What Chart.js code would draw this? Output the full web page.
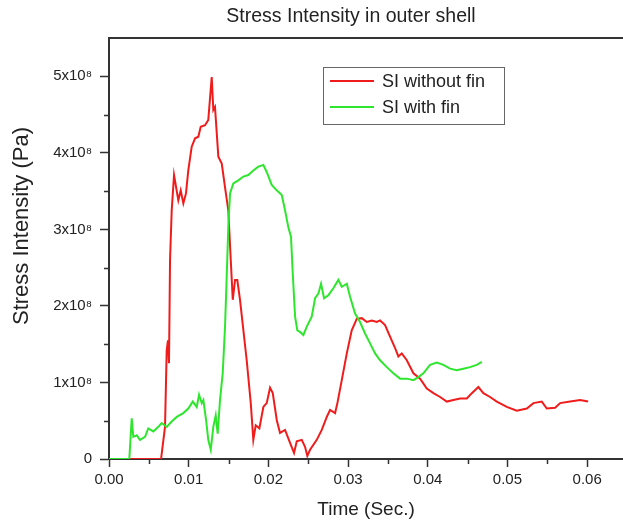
<!DOCTYPE html>
<html>
<head>
<meta charset="utf-8">
<script src="https://cdn.jsdelivr.net/npm/chart.js@4.4.1/dist/chart.umd.min.js"></script>
<style>
  html, body { margin: 0; padding: 0; background: #fff; }
</style>
</head>
<body>
<canvas id="chart" width="623" height="523"></canvas>
<script>
// Values. Stress is in units of 1e8 Pa, time in seconds.
const chartTitle = 'Stress Intensity in outer shell';
const xTitle = 'Time (Sec.)';
const yTitle = 'Stress Intensity (Pa)';
const seriesNames = ['SI without fin', 'SI with fin'];

const noFinTime = [
  0, 0.00653, 0.00703, 0.00724, 0.0074, 0.00753, 0.00766, 0.00787, 0.00816, 0.0087,
  0.009, 0.00933, 0.00966, 0.00995, 0.01038, 0.0108, 0.01121, 0.01151, 0.01205, 0.01246,
  0.01289, 0.01309, 0.0133, 0.01372, 0.01415, 0.01456, 0.01497, 0.01528, 0.01553, 0.01582,
  0.0161, 0.01644, 0.01728, 0.01779, 0.01811, 0.01841, 0.01887, 0.01937, 0.01979, 0.02021,
  0.02055, 0.02105, 0.02146, 0.02209, 0.02272, 0.02322, 0.02356, 0.02419, 0.0246, 0.02489,
  0.02523, 0.02607, 0.0267, 0.02733, 0.02774, 0.02837, 0.02866, 0.02921, 0.02984, 0.03046,
  0.03109, 0.03172, 0.03235, 0.03297, 0.0336, 0.03402, 0.03464, 0.03527, 0.0359, 0.03631,
  0.03674, 0.03737, 0.0382, 0.03904, 0.03988, 0.04071, 0.04155, 0.04239, 0.04322, 0.04406,
  0.0449, 0.04553, 0.04635, 0.04698, 0.04782, 0.04866, 0.04992, 0.05117, 0.05243, 0.05326,
  0.05431, 0.05494, 0.05598, 0.05661, 0.05787, 0.05912, 0.06012
];
const noFinStress = [
  0, 0, 0.42, 1.42, 1.55, 1.25, 2.6, 3.25, 3.71, 3.38,
  3.51, 3.34, 3.47, 3.77, 4.08, 4.19, 4.21, 4.34, 4.36, 4.43,
  4.99, 4.56, 4.6, 3.95, 3.86, 3.55, 3.25, 2.6, 2.08, 2.34,
  2.34, 2.08, 1.29, 0.73, 0.25, 0.44, 0.40, 0.68, 0.73, 0.93,
  0.86, 0.51, 0.34, 0.38, 0.21, 0.08, 0.23, 0.25, 0.16, 0.04,
  0.12, 0.25, 0.38, 0.55, 0.64, 0.6, 0.73, 1.03, 1.38, 1.68,
  1.83, 1.84, 1.79, 1.81, 1.79, 1.81, 1.75, 1.60, 1.45, 1.34,
  1.38, 1.29, 1.12, 1.05, 0.92, 0.86, 0.81, 0.75, 0.77, 0.79,
  0.79, 0.86, 0.94, 0.86, 0.81, 0.75, 0.68, 0.63, 0.66, 0.73,
  0.75, 0.66, 0.67, 0.73, 0.75, 0.77, 0.75
];

const finTime = [
  0, 0.00255, 0.00285, 0.00305, 0.00348, 0.00389, 0.00452, 0.00493, 0.00556, 0.00619,
  0.00661, 0.00724, 0.00787, 0.0085, 0.00933, 0.00995, 0.01051, 0.01101, 0.0113, 0.01164,
  0.01184, 0.01218, 0.01246, 0.01277, 0.01309, 0.01339, 0.01364, 0.01393, 0.01427, 0.01456,
  0.01477, 0.01497, 0.01519, 0.0156, 0.01623, 0.01686, 0.01748, 0.01811, 0.01874, 0.01937,
  0.01979, 0.02042, 0.02105, 0.02168, 0.02209, 0.0225, 0.02284, 0.02306, 0.02335, 0.02363,
  0.02397, 0.02439, 0.02482, 0.02544, 0.02586, 0.02627, 0.02661, 0.02699, 0.02753, 0.02815,
  0.02878, 0.02921, 0.02984, 0.03025, 0.03088, 0.0315, 0.03213, 0.03276, 0.03339, 0.03402,
  0.03486, 0.03568, 0.03653, 0.03737, 0.0382, 0.03882, 0.03945, 0.04029, 0.04113, 0.04196,
  0.0428, 0.04364, 0.04447, 0.04531, 0.04615, 0.04678
];
const finStress = [
  0, 0, 0.53, 0.29, 0.31, 0.25, 0.29, 0.40, 0.36, 0.42,
  0.47, 0.42, 0.49, 0.55, 0.60, 0.66, 0.75, 0.68, 0.84, 0.73,
  0.77, 0.51, 0.25, 0.12, 0.42, 0.57, 0.33, 0.77, 1.12, 1.73,
  2.38, 3.03, 3.47, 3.60, 3.64, 3.69, 3.71, 3.77, 3.82, 3.84,
  3.75, 3.58, 3.51, 3.45, 3.25, 3.03, 2.90, 2.42, 1.86, 1.68,
  1.66, 1.62, 1.73, 1.86, 2.10, 2.16, 2.29, 2.10, 2.14, 2.23,
  2.34, 2.25, 2.29, 2.12, 1.90, 1.79, 1.64, 1.51, 1.38, 1.29,
  1.20, 1.12, 1.05, 1.05, 1.03, 1.07, 1.12, 1.23, 1.26, 1.23,
  1.18, 1.16, 1.18, 1.20, 1.23, 1.27
];

const xTickStep = 0.01;
const yTickStep = 1;

const fontFamily = '"Liberation Sans", Arial, sans-serif';
const axisColor = '#333';
const textColor = '#222';
const redColor = '#f01c1c';
const greenColor = '#2ee62e';

function toPoints(xs, ys) {
  return xs.map((x, i) => ({ x: x, y: ys[i] }));
}

Chart.defaults.font.family = fontFamily;
Chart.defaults.color = textColor;

// title, y title, frame line on top, minor ticks and the boxed legend
const extras = {
  id: 'extras',
  afterDraw(chart) {
    const { ctx, chartArea, scales } = chart;
    const x = scales.x, y = scales.y;
    ctx.save();

    ctx.fillStyle = textColor;
    ctx.textAlign = 'center';
    ctx.textBaseline = 'middle';
    ctx.font = '19.5px ' + fontFamily;
    ctx.fillText(chartTitle, chartArea.left + 242, 17);

    ctx.save();
    ctx.translate(22, chartArea.top + 188);
    ctx.rotate(-Math.PI / 2);
    ctx.font = '22px ' + fontFamily;
    ctx.fillText(yTitle, 0, 0);
    ctx.restore();

    ctx.strokeStyle = axisColor;
    ctx.lineWidth = 2;
    ctx.beginPath();
    ctx.moveTo(chartArea.left - 1, chartArea.top);
    ctx.lineTo(chartArea.right, chartArea.top);
    ctx.stroke();

    ctx.lineWidth = 1.5;
    ctx.beginPath();
    for (let v = xTickStep / 2; v < x.max; v += xTickStep) {
      const px = Math.round(x.getPixelForValue(v)) + 0.5;
      ctx.moveTo(px, chartArea.bottom);
      ctx.lineTo(px, chartArea.bottom + 5);
    }
    for (let v = yTickStep / 2; v < y.max; v += yTickStep) {
      const py = Math.round(y.getPixelForValue(v)) + 0.5;
      ctx.moveTo(chartArea.left, py);
      ctx.lineTo(chartArea.left - 5, py);
    }
    ctx.stroke();

    // legend
    const bx = chartArea.left + 214, by = chartArea.top + 29;
    ctx.lineWidth = 1;
    ctx.strokeStyle = '#666';
    ctx.strokeRect(bx + 0.5, by + 0.5, 181, 57);
    ctx.font = '18px ' + fontFamily;
    ctx.textAlign = 'left';
    chart.data.datasets.forEach((ds, i) => {
      const ly = by + 14 + i * 26;
      ctx.strokeStyle = ds.borderColor;
      ctx.lineWidth = 2;
      ctx.beginPath();
      ctx.moveTo(bx + 7, ly);
      ctx.lineTo(bx + 51, ly);
      ctx.stroke();
      ctx.fillText(ds.label, bx + 59, ly + 1);
    });
    ctx.restore();
  }
};

new Chart(document.getElementById('chart'), {
  type: 'line',
  data: {
    datasets: [
      {
        label: seriesNames[0],
        data: toPoints(noFinTime, noFinStress),
        borderColor: redColor,
        borderWidth: 2,
        pointRadius: 0,
        tension: 0,
        order: 1
      },
      {
        label: seriesNames[1],
        data: toPoints(finTime, finStress),
        borderColor: greenColor,
        borderWidth: 2,
        pointRadius: 0,
        tension: 0,
        order: 0
      }
    ]
  },
  options: {
    responsive: false,
    animation: false,
    layout: { padding: { top: 38 } },
    plugins: {
      legend: { display: false },
      tooltip: { enabled: false },
      title: { display: false }
    },
    scales: {
      x: {
        type: 'linear',
        min: 0,
        max: 0.0645,
        afterFit(scale) { scale.height = 64; },
        border: { color: axisColor, width: 2 },
        grid: { drawOnChartArea: false, tickLength: 8, tickColor: axisColor, tickWidth: 1.5 },
        ticks: {
          stepSize: xTickStep,
          includeBounds: false,
          maxRotation: 0,
          padding: 4,
          font: { size: 15 },
          callback: v => v.toFixed(2)
        },
        title: {
          display: true,
          text: xTitle,
          font: { size: 19 },
          padding: { top: 0, bottom: 2 }
        }
      },
      y: {
        min: 0,
        max: 5.5,
        afterFit(scale) { scale.width = 109; },
        border: { color: axisColor, width: 2 },
        grid: { drawOnChartArea: false, tickLength: 9, tickColor: axisColor, tickWidth: 1.5 },
        ticks: {
          stepSize: yTickStep,
          includeBounds: false,
          padding: 8,
          font: { size: 15 },
          callback: v => v === 0 ? '0' : v + 'x10\u2078'
        }
      }
    }
  },
  plugins: [extras]
});
</script>
</body>
</html>
